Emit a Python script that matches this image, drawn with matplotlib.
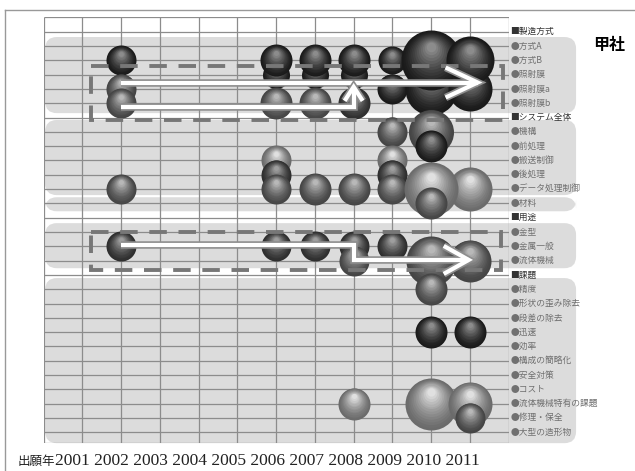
import matplotlib
matplotlib.use('Agg')
import matplotlib.pyplot as plt
from matplotlib.patches import FancyBboxPatch, Rectangle
from matplotlib.lines import Line2D
from matplotlib.transforms import ScaledTranslation

plt.rcParams['font.family'] = ['Noto Sans CJK JP', 'DejaVu Sans']

# application years on the x axis
years = list(range(2001, 2012))

# technology / issue categories, top to bottom
rows = ['製造方式', '方式A', '方式B', '照射膜', '照射膜a', '照射膜b',
        'システム全体', '機構', '前処理', '搬送制御', '後処理', 'データ処理制御', '材料',
        '用途', '金型', '金属一般', '流体機械',
        '課題', '精度', '形状の歪み除去', '段差の除去', '迅速', '効率', '構成の簡略化',
        '安全対策', 'コスト', '流体機械特有の課題', '修理・保全', '大型の造形物']
headers = ['製造方式', 'システム全体', '用途', '課題']

# bubbles (back to front): year, category, bubble diameter, tone
bub_year = [2002, 2002, 2002,
            2006, 2006, 2006, 2007, 2007, 2007, 2008, 2008, 2008,
            2009, 2009, 2010, 2010, 2011, 2011,
            2002, 2006, 2006, 2006, 2007, 2008,
            2009, 2009, 2009, 2009, 2010, 2010, 2011, 2010, 2010,
            2002, 2006, 2007, 2008, 2008, 2009, 2011, 2010,
            2010, 2010, 2011, 2008, 2010, 2011, 2011]
bub_cat = ['方式B', '照射膜a', '照射膜b',
           '照射膜', '方式B', '照射膜b', '照射膜', '方式B', '照射膜b', '照射膜', '方式B', '照射膜b',
           '照射膜a', '方式B', '照射膜a', '方式B', '照射膜a', '方式B',
           'データ処理制御', '搬送制御', '後処理', 'データ処理制御', 'データ処理制御', 'データ処理制御',
           '機構', '搬送制御', '後処理', 'データ処理制御', '機構', '前処理', 'データ処理制御',
           'データ処理制御', '材料',
           '金属一般', '金属一般', '金属一般', '金属一般', '流体機械', '金属一般', '流体機械', '流体機械',
           '精度', '迅速', '迅速', '流体機械特有の課題', '流体機械特有の課題', '流体機械特有の課題',
           '修理・保全']
bub_size = [30, 30, 30,
            27, 32, 32, 27, 32, 32, 27, 32, 32,
            30, 28, 52, 60, 44, 48,
            30, 30, 30, 30, 32, 32,
            30, 30, 30, 30, 45, 32, 44, 54, 32,
            30, 30, 30, 30, 30, 30, 42, 50,
            32, 32, 32, 32, 52, 44, 30]
bub_tone = ['dark', 'mid', 'mid',
            'dark', 'dark', 'mid', 'dark', 'dark', 'mid', 'dark', 'dark', 'deep',
            'dark', 'dark', 'dark', 'dark', 'dark', 'dark',
            'mid', 'light', 'deep', 'mid', 'mid', 'mid',
            'mid', 'light', 'deep', 'mid', 'mid', 'dark', 'light', 'light', 'mid',
            'deep', 'deep', 'deep', 'deep', 'mid', 'deep', 'mid', 'mid',
            'mid', 'dark', 'dark', 'light', 'light', 'light', 'mid']

# gray level at the rim and at the highlight
tones = {'dark': (0.10, 0.55), 'deep': (0.18, 0.62),
         'mid': (0.27, 0.72), 'light': (0.42, 0.88)}

fig = plt.figure(figsize=(6.35, 4.71), dpi=100)
ax = fig.add_axes([0.0687, 0.0594, 0.7323, 0.9036])
ax.axis('off')
x0, x1 = 2000, 2012
y0, y1 = -1, len(rows) - 0.25
ax.set_xlim(x0, x1)
ax.set_ylim(y1, y0)
ax.set_autoscale_on(False)

bb = ax.get_window_extent()
px_x = bb.width / (x1 - x0)
px_y = bb.height / (y1 - y0)
row_of = {name: i for i, name in enumerate(rows)}

# shaded gray bands behind the groups, reaching into the label column
bands = [(0.37, 5.69), (6.17, 11.42), (11.57, 12.55), (13.38, 16.53), (17.22, 28.76)]
for top, bot in bands:
    ax.add_patch(FancyBboxPatch((x0 + 0.04, top), 13.7, bot - top,
                                boxstyle='round,pad=0,rounding_size=0.3',
                                mutation_aspect=px_x / px_y,
                                fc='#dcdcdc', ec='none', zorder=0.5, clip_on=False))

# grid
ax.vlines(range(x0, x1 + 1), y0, y1, color='#8c8c8c', lw=0.9, zorder=1)
ax.hlines(list(range(y0, len(rows))) + [y1], x0, x1, color='#8c8c8c', lw=0.9, zorder=1)


def sphere(x, y, d, tone, z):
    lo, hi = tones[tone]
    n = 14
    for k in range(n):
        t = k / (n - 1)
        rad = d / 2 * (1 - 0.84 * t)
        dy = d / 2 * 0.45 * t
        c = lo + (hi - lo) * t ** 1.4
        tr = ax.transData + ScaledTranslation(0, dy / fig.dpi, fig.dpi_scale_trans)
        ax.scatter([x], [y], s=(rad * 2 * 72 / fig.dpi) ** 2, color=str(c),
                   lw=0, transform=tr, zorder=z + k * 0.0001)


for i, (yr, cat, d, tone) in enumerate(zip(bub_year, bub_cat, bub_size, bub_tone)):
    sphere(yr, row_of[cat], d, tone, 3 + i * 0.01)

# dashed frames around the highlighted groups
for (xa, xb, ya, yb) in [(2001.22, 2011.85, 2.4, 6.17), (2001.22, 2011.8, 13.98, 16.67)]:
    ax.add_patch(Rectangle((xa, ya), xb - xa, yb - ya, fill=False, ec='#777777',
                           lw=2.8, ls=(0, (4.5, 3)), zorder=8))


def head(tip, direction, length, width):
    xt, yt = tip
    if direction == 'right':
        return ([xt - length / px_x, xt, xt - length / px_x],
                [yt - width / px_y, yt, yt + width / px_y])
    return ([xt - width / px_x, xt, xt + width / px_x],
            [yt + length / px_y, yt, yt + length / px_y])


def hollow_arrow(xs, ys, direction, length, width):
    hx, hy = head((xs[-1], ys[-1]), direction, length, width)
    for col, lw in [('#8e8e8e', 5.4), ('white', 3.0)]:
        ax.plot(xs, ys, color=col, lw=lw, solid_joinstyle='miter',
                solid_capstyle='butt', zorder=9)
        ax.plot(hx, hy, color=col, lw=lw, solid_joinstyle='miter',
                solid_capstyle='butt', zorder=9)


hollow_arrow([2002, 2011.2], [3.55, 3.55], 'right', 32, 15)
hollow_arrow([2002, 2008, 2008], [5.27, 5.27, 3.85], 'up', 14, 9)
hollow_arrow([2002, 2008, 2008, 2010.97], [14.9, 14.9, 15.95, 15.95], 'right', 25, 14)

# category labels on the right
for i, name in enumerate(rows):
    if name in headers:
        ax.text(x1 + 0.05, i, '■' + name, fontsize=6.3, color='#333333',
                va='center', ha='left', clip_on=False, zorder=10)
    else:
        ax.text(x1 + 0.05, i, '●' + name, fontsize=6.3, color='#707070',
                va='center', ha='left', clip_on=False, zorder=10)

fig.text(609 / 635, 1 - 45 / 471, '甲社', fontsize=11.5, fontweight='bold',
         ha='center', va='center')

# year axis text
base = 1 - 465 / 471
fig.text(55 / 635, base, '出願年', fontsize=9, ha='right', va='baseline', color='#222222')
fig.text(55 / 635, base, ' '.join(str(y) for y in years), fontsize=12.5,
         family='Liberation Serif', ha='left', va='baseline', color='#222222')

# outer frame
fig.add_artist(Line2D([5 / 635, 1], [1 - 10 / 471] * 2, transform=fig.transFigure,
                      color='#999999', lw=1))
fig.add_artist(Line2D([5 / 635] * 2, [0, 1 - 10 / 471], transform=fig.transFigure,
                      color='#999999', lw=1))

fig.savefig('out.png', dpi=100)
